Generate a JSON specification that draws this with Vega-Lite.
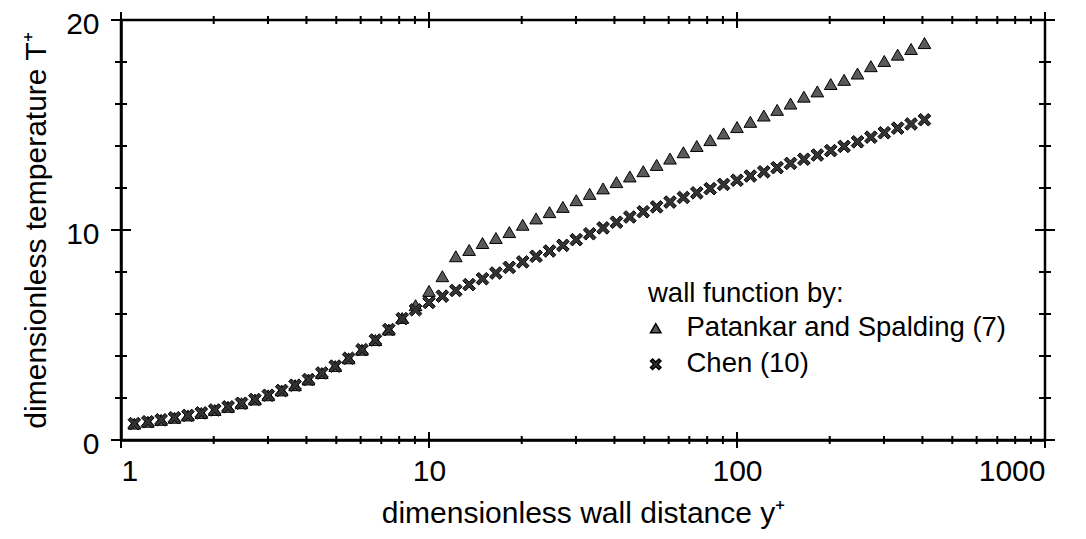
{
  "$schema": "https://vega.github.io/schema/vega-lite/v6.json",
  "width": 924,
  "height": 420,
  "autosize": {"type": "none"},
  "padding": {"left": 121, "top": 20, "right": 41, "bottom": 99},
  "background": "white",
  "config": {
    "view": {"stroke": "black", "strokeWidth": 2.5},
    "font": "Liberation Sans",
    "axis": {
      "grid": false,
      "domainColor": "black",
      "domainWidth": 2.5,
      "labelColor": "black",
      "titleColor": "black",
      "labelFont": "Liberation Sans",
      "titleFont": "Liberation Sans",
      "labelFontSize": 30,
      "titleFontSize": 30,
      "titleFontWeight": "normal"
    }
  },
  "datasets": {
    "xticks": [
      {"v": 1, "kind": "major"}, {"v": 2, "kind": "minor"}, {"v": 3, "kind": "minor"}, {"v": 4, "kind": "minor"}, {"v": 5, "kind": "minor"}, {"v": 6, "kind": "minor"}, {"v": 7, "kind": "minor"}, {"v": 8, "kind": "minor"}, {"v": 9, "kind": "minor"},
      {"v": 10, "kind": "major"}, {"v": 20, "kind": "minor"}, {"v": 30, "kind": "minor"}, {"v": 40, "kind": "minor"}, {"v": 50, "kind": "minor"}, {"v": 60, "kind": "minor"}, {"v": 70, "kind": "minor"}, {"v": 80, "kind": "minor"}, {"v": 90, "kind": "minor"},
      {"v": 100, "kind": "major"}, {"v": 200, "kind": "minor"}, {"v": 300, "kind": "minor"}, {"v": 400, "kind": "minor"}, {"v": 500, "kind": "minor"}, {"v": 600, "kind": "minor"}, {"v": 700, "kind": "minor"}, {"v": 800, "kind": "minor"}, {"v": 900, "kind": "minor"},
      {"v": 1000, "kind": "major"}
    ],
    "yticks": [
      {"v": 0, "kind": "major"}, {"v": 2, "kind": "minor"}, {"v": 4, "kind": "minor"}, {"v": 6, "kind": "minor"}, {"v": 8, "kind": "minor"},
      {"v": 10, "kind": "major"}, {"v": 12, "kind": "minor"}, {"v": 14, "kind": "minor"}, {"v": 16, "kind": "minor"}, {"v": 18, "kind": "minor"},
      {"v": 20, "kind": "major"}
    ],
    "pts": [
      {"yplus": 1.105, "tplus": 0.78, "series": "Patankar and Spalding (7)"},
      {"yplus": 1.222, "tplus": 0.87, "series": "Patankar and Spalding (7)"},
      {"yplus": 1.35, "tplus": 0.96, "series": "Patankar and Spalding (7)"},
      {"yplus": 1.492, "tplus": 1.06, "series": "Patankar and Spalding (7)"},
      {"yplus": 1.649, "tplus": 1.17, "series": "Patankar and Spalding (7)"},
      {"yplus": 1.823, "tplus": 1.29, "series": "Patankar and Spalding (7)"},
      {"yplus": 2.015, "tplus": 1.43, "series": "Patankar and Spalding (7)"},
      {"yplus": 2.227, "tplus": 1.58, "series": "Patankar and Spalding (7)"},
      {"yplus": 2.462, "tplus": 1.75, "series": "Patankar and Spalding (7)"},
      {"yplus": 2.721, "tplus": 1.93, "series": "Patankar and Spalding (7)"},
      {"yplus": 3.007, "tplus": 2.13, "series": "Patankar and Spalding (7)"},
      {"yplus": 3.324, "tplus": 2.36, "series": "Patankar and Spalding (7)"},
      {"yplus": 3.674, "tplus": 2.61, "series": "Patankar and Spalding (7)"},
      {"yplus": 4.061, "tplus": 2.88, "series": "Patankar and Spalding (7)"},
      {"yplus": 4.488, "tplus": 3.19, "series": "Patankar and Spalding (7)"},
      {"yplus": 4.961, "tplus": 3.52, "series": "Patankar and Spalding (7)"},
      {"yplus": 5.483, "tplus": 3.89, "series": "Patankar and Spalding (7)"},
      {"yplus": 6.061, "tplus": 4.3, "series": "Patankar and Spalding (7)"},
      {"yplus": 6.699, "tplus": 4.76, "series": "Patankar and Spalding (7)"},
      {"yplus": 7.404, "tplus": 5.26, "series": "Patankar and Spalding (7)"},
      {"yplus": 8.184, "tplus": 5.81, "series": "Patankar and Spalding (7)"},
      {"yplus": 9.045, "tplus": 6.42, "series": "Patankar and Spalding (7)"},
      {"yplus": 10.0, "tplus": 7.1, "series": "Patankar and Spalding (7)"},
      {"yplus": 11.05, "tplus": 7.8, "series": "Patankar and Spalding (7)"},
      {"yplus": 12.22, "tplus": 8.75, "series": "Patankar and Spalding (7)"},
      {"yplus": 13.5, "tplus": 9.05, "series": "Patankar and Spalding (7)"},
      {"yplus": 14.92, "tplus": 9.38, "series": "Patankar and Spalding (7)"},
      {"yplus": 16.49, "tplus": 9.62, "series": "Patankar and Spalding (7)"},
      {"yplus": 18.23, "tplus": 9.9, "series": "Patankar and Spalding (7)"},
      {"yplus": 20.15, "tplus": 10.25, "series": "Patankar and Spalding (7)"},
      {"yplus": 22.27, "tplus": 10.55, "series": "Patankar and Spalding (7)"},
      {"yplus": 24.62, "tplus": 10.85, "series": "Patankar and Spalding (7)"},
      {"yplus": 27.21, "tplus": 11.1, "series": "Patankar and Spalding (7)"},
      {"yplus": 30.07, "tplus": 11.42, "series": "Patankar and Spalding (7)"},
      {"yplus": 33.24, "tplus": 11.72, "series": "Patankar and Spalding (7)"},
      {"yplus": 36.74, "tplus": 11.98, "series": "Patankar and Spalding (7)"},
      {"yplus": 40.61, "tplus": 12.28, "series": "Patankar and Spalding (7)"},
      {"yplus": 44.88, "tplus": 12.55, "series": "Patankar and Spalding (7)"},
      {"yplus": 49.61, "tplus": 12.8, "series": "Patankar and Spalding (7)"},
      {"yplus": 54.83, "tplus": 13.1, "series": "Patankar and Spalding (7)"},
      {"yplus": 60.61, "tplus": 13.4, "series": "Patankar and Spalding (7)"},
      {"yplus": 66.99, "tplus": 13.7, "series": "Patankar and Spalding (7)"},
      {"yplus": 74.04, "tplus": 14.0, "series": "Patankar and Spalding (7)"},
      {"yplus": 81.84, "tplus": 14.28, "series": "Patankar and Spalding (7)"},
      {"yplus": 90.45, "tplus": 14.6, "series": "Patankar and Spalding (7)"},
      {"yplus": 100.0, "tplus": 14.9, "series": "Patankar and Spalding (7)"},
      {"yplus": 110.5, "tplus": 15.15, "series": "Patankar and Spalding (7)"},
      {"yplus": 122.2, "tplus": 15.45, "series": "Patankar and Spalding (7)"},
      {"yplus": 135.0, "tplus": 15.72, "series": "Patankar and Spalding (7)"},
      {"yplus": 149.2, "tplus": 16.02, "series": "Patankar and Spalding (7)"},
      {"yplus": 164.9, "tplus": 16.35, "series": "Patankar and Spalding (7)"},
      {"yplus": 182.3, "tplus": 16.6, "series": "Patankar and Spalding (7)"},
      {"yplus": 201.5, "tplus": 16.95, "series": "Patankar and Spalding (7)"},
      {"yplus": 222.7, "tplus": 17.15, "series": "Patankar and Spalding (7)"},
      {"yplus": 246.2, "tplus": 17.45, "series": "Patankar and Spalding (7)"},
      {"yplus": 272.1, "tplus": 17.8, "series": "Patankar and Spalding (7)"},
      {"yplus": 300.7, "tplus": 18.05, "series": "Patankar and Spalding (7)"},
      {"yplus": 332.4, "tplus": 18.35, "series": "Patankar and Spalding (7)"},
      {"yplus": 367.4, "tplus": 18.62, "series": "Patankar and Spalding (7)"},
      {"yplus": 406.1, "tplus": 18.9, "series": "Patankar and Spalding (7)"},
      {"yplus": 1.105, "tplus": 0.78, "series": "Chen (10)"},
      {"yplus": 1.222, "tplus": 0.87, "series": "Chen (10)"},
      {"yplus": 1.35, "tplus": 0.96, "series": "Chen (10)"},
      {"yplus": 1.492, "tplus": 1.06, "series": "Chen (10)"},
      {"yplus": 1.649, "tplus": 1.17, "series": "Chen (10)"},
      {"yplus": 1.823, "tplus": 1.29, "series": "Chen (10)"},
      {"yplus": 2.015, "tplus": 1.43, "series": "Chen (10)"},
      {"yplus": 2.227, "tplus": 1.58, "series": "Chen (10)"},
      {"yplus": 2.462, "tplus": 1.75, "series": "Chen (10)"},
      {"yplus": 2.721, "tplus": 1.93, "series": "Chen (10)"},
      {"yplus": 3.007, "tplus": 2.13, "series": "Chen (10)"},
      {"yplus": 3.324, "tplus": 2.36, "series": "Chen (10)"},
      {"yplus": 3.674, "tplus": 2.61, "series": "Chen (10)"},
      {"yplus": 4.061, "tplus": 2.88, "series": "Chen (10)"},
      {"yplus": 4.488, "tplus": 3.19, "series": "Chen (10)"},
      {"yplus": 4.961, "tplus": 3.52, "series": "Chen (10)"},
      {"yplus": 5.483, "tplus": 3.89, "series": "Chen (10)"},
      {"yplus": 6.061, "tplus": 4.3, "series": "Chen (10)"},
      {"yplus": 6.699, "tplus": 4.76, "series": "Chen (10)"},
      {"yplus": 7.404, "tplus": 5.26, "series": "Chen (10)"},
      {"yplus": 8.184, "tplus": 5.78, "series": "Chen (10)"},
      {"yplus": 9.045, "tplus": 6.2, "series": "Chen (10)"},
      {"yplus": 10.0, "tplus": 6.55, "series": "Chen (10)"},
      {"yplus": 11.05, "tplus": 6.85, "series": "Chen (10)"},
      {"yplus": 12.22, "tplus": 7.12, "series": "Chen (10)"},
      {"yplus": 13.5, "tplus": 7.4, "series": "Chen (10)"},
      {"yplus": 14.92, "tplus": 7.68, "series": "Chen (10)"},
      {"yplus": 16.49, "tplus": 7.95, "series": "Chen (10)"},
      {"yplus": 18.23, "tplus": 8.22, "series": "Chen (10)"},
      {"yplus": 20.15, "tplus": 8.48, "series": "Chen (10)"},
      {"yplus": 22.27, "tplus": 8.75, "series": "Chen (10)"},
      {"yplus": 24.62, "tplus": 9.0, "series": "Chen (10)"},
      {"yplus": 27.21, "tplus": 9.27, "series": "Chen (10)"},
      {"yplus": 30.07, "tplus": 9.54, "series": "Chen (10)"},
      {"yplus": 33.24, "tplus": 9.82, "series": "Chen (10)"},
      {"yplus": 36.74, "tplus": 10.1, "series": "Chen (10)"},
      {"yplus": 40.61, "tplus": 10.37, "series": "Chen (10)"},
      {"yplus": 44.88, "tplus": 10.62, "series": "Chen (10)"},
      {"yplus": 49.61, "tplus": 10.87, "series": "Chen (10)"},
      {"yplus": 54.83, "tplus": 11.1, "series": "Chen (10)"},
      {"yplus": 60.61, "tplus": 11.33, "series": "Chen (10)"},
      {"yplus": 66.99, "tplus": 11.55, "series": "Chen (10)"},
      {"yplus": 74.04, "tplus": 11.77, "series": "Chen (10)"},
      {"yplus": 81.84, "tplus": 11.97, "series": "Chen (10)"},
      {"yplus": 90.45, "tplus": 12.17, "series": "Chen (10)"},
      {"yplus": 100.0, "tplus": 12.37, "series": "Chen (10)"},
      {"yplus": 110.5, "tplus": 12.57, "series": "Chen (10)"},
      {"yplus": 122.2, "tplus": 12.77, "series": "Chen (10)"},
      {"yplus": 135.0, "tplus": 12.97, "series": "Chen (10)"},
      {"yplus": 149.2, "tplus": 13.17, "series": "Chen (10)"},
      {"yplus": 164.9, "tplus": 13.37, "series": "Chen (10)"},
      {"yplus": 182.3, "tplus": 13.57, "series": "Chen (10)"},
      {"yplus": 201.5, "tplus": 13.78, "series": "Chen (10)"},
      {"yplus": 222.7, "tplus": 13.98, "series": "Chen (10)"},
      {"yplus": 246.2, "tplus": 14.2, "series": "Chen (10)"},
      {"yplus": 272.1, "tplus": 14.42, "series": "Chen (10)"},
      {"yplus": 300.7, "tplus": 14.63, "series": "Chen (10)"},
      {"yplus": 332.4, "tplus": 14.85, "series": "Chen (10)"},
      {"yplus": 367.4, "tplus": 15.05, "series": "Chen (10)"},
      {"yplus": 406.1, "tplus": 15.25, "series": "Chen (10)"}
    ]
  },
  "layer": [
    {
      "data": {"name": "pts"},
      "mark": {"type": "point", "filled": true, "stroke": "black", "strokeWidth": 1, "opacity": 1},
      "encoding": {
        "x": {
          "field": "yplus", "type": "quantitative",
          "scale": {"type": "log", "domain": [1, 1000], "nice": false},
          "axis": {"orient": "bottom", "values": [1, 10, 100, 1000], "format": "d", "ticks": false, "labelPadding": 16, "title": "dimensionless wall distance y⁺", "titlePadding": 12}
        },
        "y": {
          "field": "tplus", "type": "quantitative",
          "scale": {"domain": [0, 20], "nice": false, "zero": false},
          "axis": {"orient": "left", "values": [0, 10, 20], "ticks": false, "labelPadding": 22, "labelOffset": 4, "title": "dimensionless temperature T⁺", "titlePadding": 14}
        },
        "shape": {
          "field": "series", "type": "nominal",
          "scale": {"domain": ["Patankar and Spalding (7)", "Chen (10)"], "range": ["triangle-up", "M-1,-0.6L-0.6,-1L0,-0.4L0.6,-1L1,-0.6L0.4,0L1,0.6L0.6,1L0,0.4L-0.6,1L-1,0.6L-0.4,0Z"]},
          "legend": {
            "orient": "none", "legendX": 527, "legendY": 260,
            "title": "wall function by:", "titleFontSize": 27.5, "titleFontWeight": "normal", "titleColor": "black", "titleFont": "Liberation Sans", "titlePadding": 7, "titleLimit": 600,
            "labelFontSize": 27.5, "labelColor": "black", "labelFont": "Liberation Sans", "labelOffset": 17, "labelLimit": 600, "rowPadding": 7, "padding": 0,
            "symbolSize": 110, "symbolOffset": -6, "symbolFillColor": "black", "symbolStrokeColor": "black",
            "encode": {"symbols": {"update": {"fill": {"value": "black"}, "stroke": {"value": "black"}}}}
          }
        },
        "fill": {
          "field": "series", "type": "nominal",
          "scale": {"domain": ["Patankar and Spalding (7)", "Chen (10)"], "range": ["#5a5a5a", "#333333"]},
          "legend": null
        },
        "size": {"value": 160}
      }
    },
    {
      "data": {"name": "xticks"},
      "mark": {"type": "tick", "orient": "vertical", "clip": false, "color": "black", "thickness": 2, "opacity": 1},
      "encoding": {
        "x": {"field": "v", "type": "quantitative"},
        "y": {"datum": 0, "type": "quantitative"},
        "size": {"field": "kind", "type": "nominal", "scale": {"domain": ["major", "minor"], "range": [16, 8]}, "legend": null}
      }
    },
    {
      "data": {"name": "xticks"},
      "mark": {"type": "tick", "orient": "vertical", "clip": false, "color": "black", "thickness": 2, "opacity": 1},
      "encoding": {
        "x": {"field": "v", "type": "quantitative"},
        "y": {"datum": 20, "type": "quantitative"},
        "size": {"field": "kind", "type": "nominal", "scale": {"domain": ["major", "minor"], "range": [16, 8]}, "legend": null}
      }
    },
    {
      "data": {"name": "yticks"},
      "mark": {"type": "tick", "orient": "horizontal", "clip": false, "color": "black", "thickness": 2, "opacity": 1},
      "encoding": {
        "y": {"field": "v", "type": "quantitative"},
        "x": {"datum": 1, "type": "quantitative"},
        "size": {"field": "kind", "type": "nominal", "scale": {"domain": ["major", "minor"], "range": [20, 12]}, "legend": null}
      }
    },
    {
      "data": {"name": "yticks"},
      "mark": {"type": "tick", "orient": "horizontal", "clip": false, "color": "black", "thickness": 2, "opacity": 1},
      "encoding": {
        "y": {"field": "v", "type": "quantitative"},
        "x": {"datum": 1000, "type": "quantitative"},
        "size": {"field": "kind", "type": "nominal", "scale": {"domain": ["major", "minor"], "range": [20, 12]}, "legend": null}
      }
    }
  ],
  "resolve": {"scale": {"size": "independent"}}
}
